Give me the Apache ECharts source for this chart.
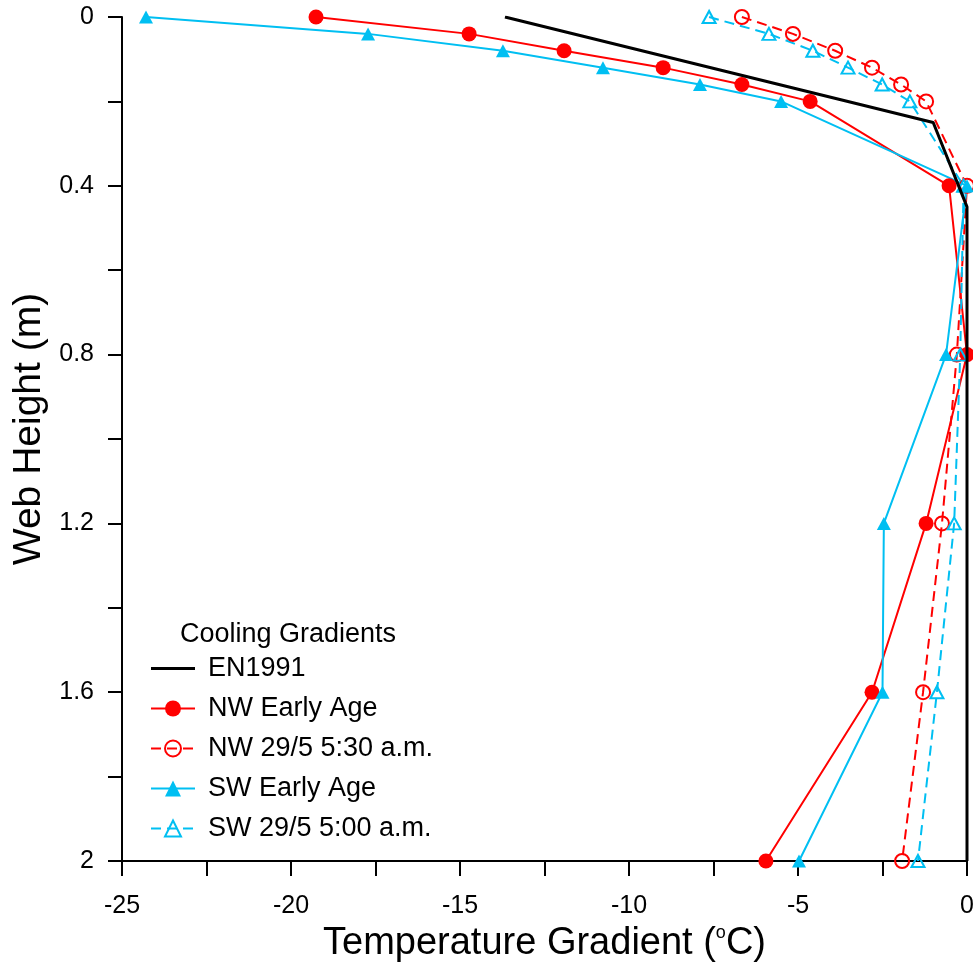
<!DOCTYPE html>
<html>
<head>
<meta charset="utf-8">
<script src="https://cdn.jsdelivr.net/npm/echarts@6/dist/echarts.min.js"></script>
<style>
    html, body { margin:0; padding:0; background:#fff; }
    #myChart { width:973px; height:962px; }
</style>
</head>
<body>
<div id="myChart"></div>
<script>
// web heights (m)
var heightsTop = [0, 0.04, 0.08, 0.12, 0.16, 0.2, 0.4, 0.8, 1.2, 1.6, 2.0];
// temperature gradients (oC)
var nwEarly  = [-19.26, -14.73, -11.92, -8.99, -6.66, -4.64, -0.53, 0, -1.21, -2.81, -5.95];
var nwMorn   = [-6.66, -5.15, -3.9, -2.81, -1.95, -1.21, 0, -0.3, -0.74, -1.3, -1.92];
var swEarly  = [-24.29, -17.72, -13.73, -10.77, -7.9, -5.5, 0, -0.62, -2.46, -2.5, -4.97];
var swMorn   = [-7.63, -5.86, -4.56, -3.52, -2.51, -1.69, -0.1, -0.2, -0.38, -0.89, -1.45];
// EN1991 cooling profile
var enHeights = [0, 0.25, 0.45, 2.0];
var enTemps   = [-13.67, -1.0, 0, 0];

var red = '#ff0000';
var cyan = '#00bff2';
var font = 'Liberation Sans, Arial, sans-serif';

function pairs(xs, ys) {
    var out = [];
    for (var i = 0; i < xs.length; i++) out.push([xs[i], ys[i]]);
    return out;
}

var myChart = echarts.init(document.getElementById('myChart'));
myChart.setOption({
    animation: false,
    grid: { left: 122, right: 6, top: 17, bottom: 101, outerBoundsMode: 'none', containLabel: false },
    graphic: [{
        type: 'text', left: 180, top: 621,
        style: { text: 'Cooling Gradients', font: '27px ' + font, fill: '#000' }
    }],
    legend: {
        orient: 'vertical', left: 150, top: 655, padding: 0,
        itemWidth: 44, itemHeight: 20, itemGap: 13,
        textStyle: { fontFamily: font, fontSize: 27, color: '#000', padding: [0, 0, 0, 8] },
        data: [
            { name: 'EN1991', icon: 'path://M0,0 L44,0 L44,3 L0,3 Z' },
            'NW Early Age', 'NW 29/5 5:30 a.m.', 'SW Early Age', 'SW 29/5 5:00 a.m.'
        ]
    },
    xAxis: {
        type: 'value', min: -25, max: 0, interval: 5, position: 'bottom',
        name: 'Temperature Gradient ({sup|o}C)', nameLocation: 'middle', nameGap: 60,
        nameTextStyle: {
            fontFamily: font, fontSize: 38, color: '#000',
            rich: { sup: { fontFamily: font, fontSize: 18, verticalAlign: 'top', lineHeight: 40, color: '#000' } }
        },
        axisLine: { show: true, onZero: false, lineStyle: { color: '#000', width: 2 } },
        axisTick: { show: true, inside: false, length: 15, lineStyle: { color: '#000', width: 2 } },
        minorTick: { show: true, splitNumber: 2, length: 15, lineStyle: { color: '#000', width: 2 } },
        axisLabel: { fontFamily: font, fontSize: 25, color: '#000', margin: 33 },
        splitLine: { show: false }
    },
    yAxis: {
        type: 'value', min: 0, max: 2, interval: 0.4, inverse: true, position: 'left',
        name: 'Web Height (m)', nameLocation: 'middle', nameGap: 72,
        nameTextStyle: { fontFamily: font, fontSize: 39, color: '#000', padding: [0, 0, 0, 20] },
        axisLine: { show: true, onZero: false, lineStyle: { color: '#000', width: 2 } },
        axisTick: { show: true, inside: false, length: 14, lineStyle: { color: '#000', width: 2 } },
        minorTick: { show: true, splitNumber: 2, length: 14, lineStyle: { color: '#000', width: 2 } },
        axisLabel: { fontFamily: font, fontSize: 25, color: '#000', margin: 28 },
        splitLine: { show: false }
    },
    series: [
        {
            name: 'EN1991', type: 'line', data: pairs(enTemps, enHeights),
            showSymbol: false, symbol: 'none',
            lineStyle: { color: '#000', width: 3 }, itemStyle: { color: '#000' }, z: 5
        },
        {
            name: 'NW Early Age', type: 'line', data: pairs(nwEarly, heightsTop),
            symbol: 'circle', symbolSize: 15,
            lineStyle: { color: red, width: 2 }, itemStyle: { color: red }
        },
        {
            name: 'NW 29/5 5:30 a.m.', type: 'line', data: pairs(nwMorn, heightsTop),
            symbol: 'circle', symbolSize: 14,
            lineStyle: { color: red, width: 2, type: [10, 6] },
            itemStyle: { color: 'rgba(255,255,255,0)', borderColor: red, borderWidth: 2 }
        },
        {
            name: 'SW Early Age', type: 'line', data: pairs(swEarly, heightsTop),
            symbol: 'triangle', symbolSize: [14, 13],
            lineStyle: { color: cyan, width: 2 }, itemStyle: { color: cyan }
        },
        {
            name: 'SW 29/5 5:00 a.m.', type: 'line', data: pairs(swMorn, heightsTop),
            symbol: 'triangle', symbolSize: [13, 12],
            lineStyle: { color: cyan, width: 2, type: [10, 6] },
            itemStyle: { color: 'rgba(255,255,255,0)', borderColor: cyan, borderWidth: 2 }
        }
    ]
});
</script>
</body>
</html>
